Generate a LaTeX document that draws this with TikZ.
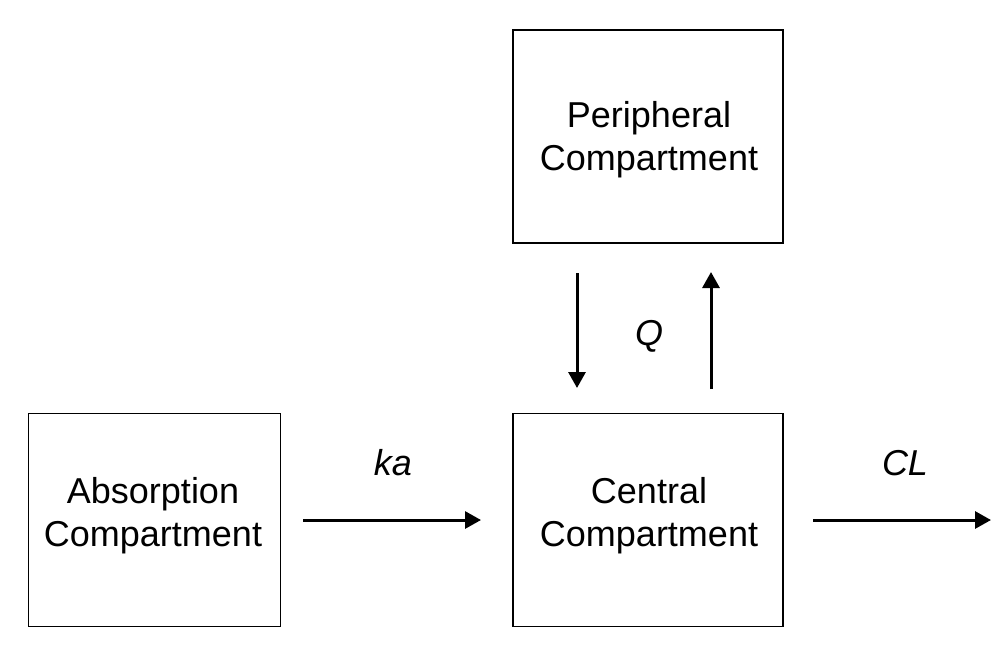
\documentclass[tikz,border=0pt]{standalone}
\usepackage{fontspec}
\setmainfont{Liberation Sans}
\usetikzlibrary{arrows.meta}
\begin{document}
\begin{tikzpicture}[x=1pt,y=-1pt,
  comp/.style={draw=black, line width=1.6pt, minimum width=270pt, minimum height=213pt, inner sep=0pt},
  comptext/.style={align=center, inner sep=0pt, font=\fontsize{36}{43}\selectfont},
  flow/.style={line width=3pt, -{Triangle[length=16pt,width=17pt]}},
  lab/.style={anchor=base, inner sep=0pt, font=\fontsize{36}{40}\selectfont\itshape}]
\useasboundingbox (0,0) rectangle (992,646);
\node[comp, minimum width=252pt] (abs) at (154.5,520) {};
\node[comp] (cen) at (648,520) {};
\node[comp] (per) at (648,136.5) {};
\node[comptext] (abst) at (153,515.8) {Absorption\\Compartment};
\node[comptext] (cent) at (649,515.8) {Central\\Compartment};
\node[comptext] (pert) at (649,139.6) {Peripheral\\Compartment};
\coordinate (abse) at (303,520);
\coordinate (cenw) at (481,520);
\coordinate (cene) at (813,520);
\coordinate (out) at (991,520);
\coordinate (d1) at (577,273);
\coordinate (d2) at (577,388);
\coordinate (u1) at (711,389);
\coordinate (u2) at (711,272);
\draw[flow] (abse) -- (cenw);
\draw[flow] (cene) -- (out);
\draw[flow] (d1) -- (d2);
\draw[flow] (u1) -- (u2);
\node[lab] (ka) at (393,475) {ka};
\node[lab] (q) at (649,345) {Q};
\node[lab] (cl) at (905,475) {CL};
\end{tikzpicture}
\end{document}
